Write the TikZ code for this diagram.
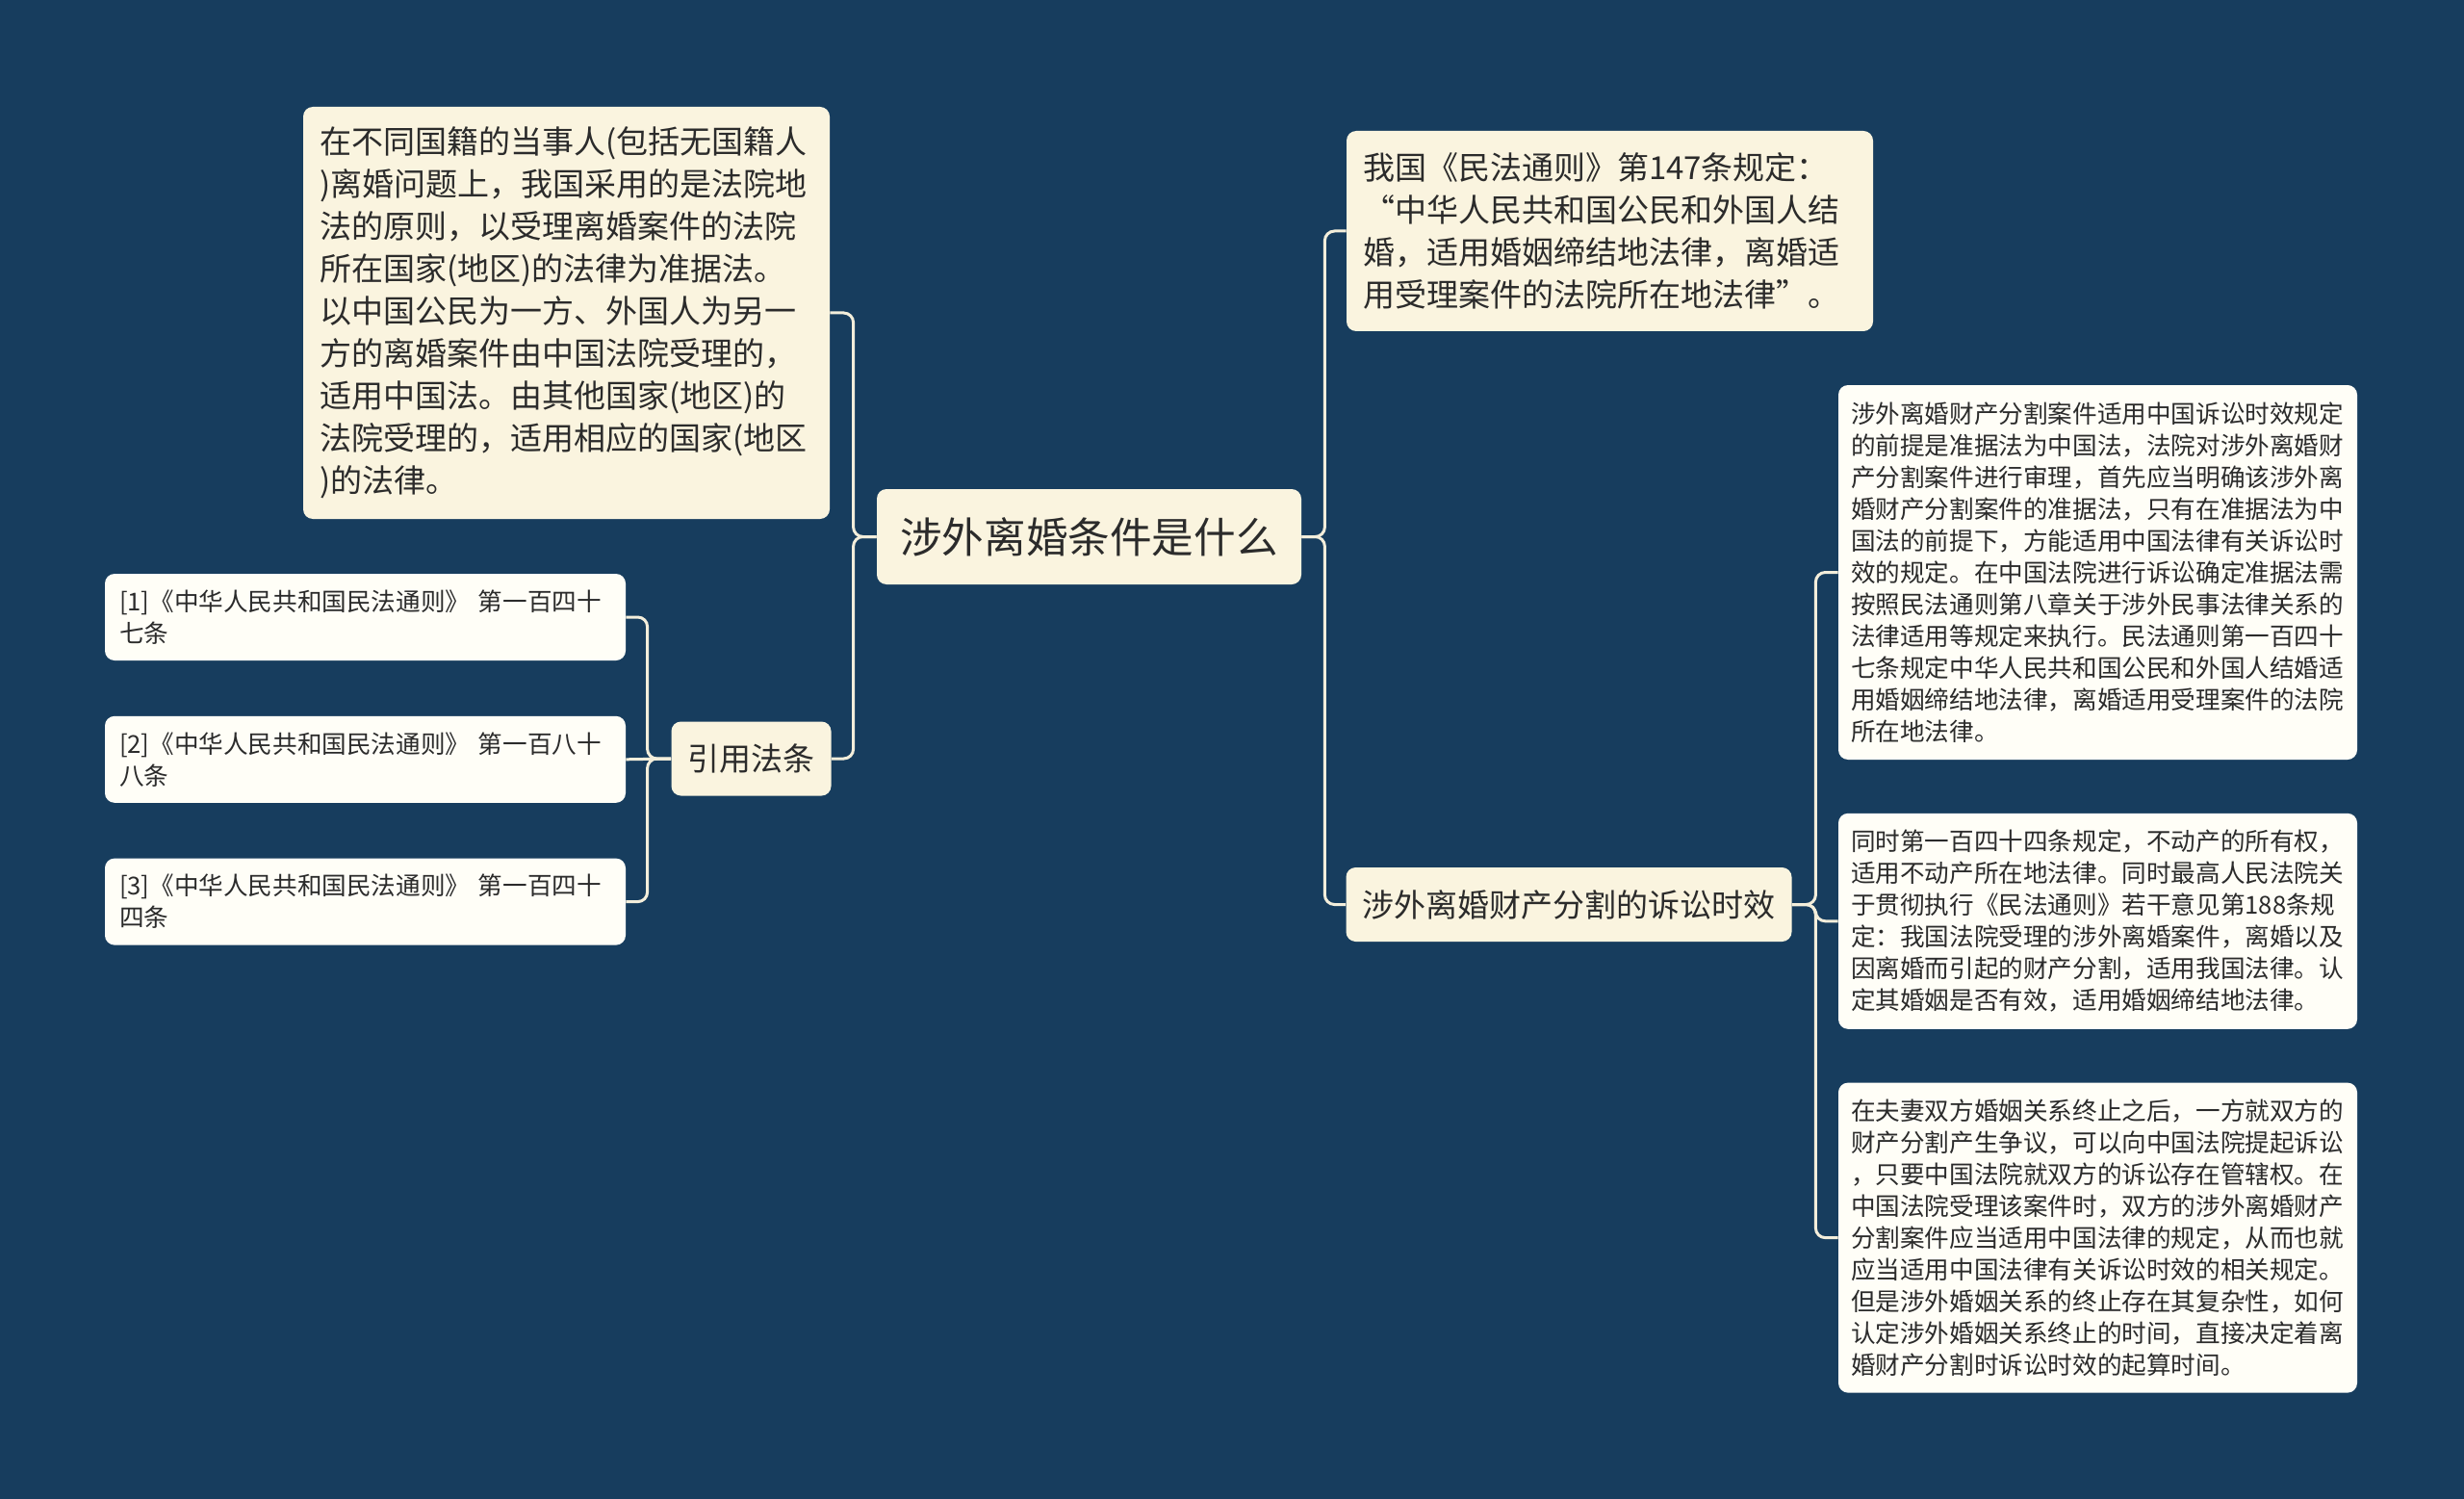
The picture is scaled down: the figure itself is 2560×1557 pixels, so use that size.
\documentclass[tikz,border=0pt]{standalone}
\usepackage{fontspec}
\newfontfamily\cjk{Noto Sans CJK SC}
\usepackage{xcolor}
\usepackage{tikz}
\usetikzlibrary{positioning}
\definecolor{navy}{HTML}{173D5E}
\definecolor{cream}{HTML}{FAF4DF}
\definecolor{paper}{HTML}{FFFEF7}
\definecolor{ink}{HTML}{2B2B2B}
\definecolor{wire}{HTML}{F3EEDB}

\begin{document}
\begin{tikzpicture}[
    x=0.5pt, y=-0.5pt,
    box/.style={fill=cream, rounded corners=5pt, align=left, text=ink, inner sep=0pt},
    big/.style={box, inner xsep=8.5pt, font=\cjk\fontsize{16.5}{22}\selectfont},
    leaf/.style={box, fill=paper, inner xsep=6.5pt, font=\cjk\fontsize{12.8}{16.5}\selectfont},
    link/.style={draw=wire, line width=1.5pt, rounded corners=5pt},
  ]
    \fill[navy] (0,0) rectangle (2560,1557);
    \node[box, minimum width=220.5pt, minimum height=49.5pt, font=\cjk\fontsize{21.8}{26}\selectfont] (root) at (1131.5,557.5) {涉外离婚条件是什么};
    \node[big, text width=256.5pt, minimum height=214pt] (rule) at (588.5,325) {在不同国籍的当事人(包括无国籍人\\)离婚问题上，我国采用的是法院地\\法的原则，以受理离婚案件的法院\\所在国家(地区)的法律为准据法。\\以中国公民为一方、外国人为另一\\方的离婚案件由中国法院受理的，\\适用中国法。由其他国家(地区)的\\法院受理的，适用相应的国家(地区\\)的法律。};
    \node[big, minimum width=81.5pt, minimum height=38.5pt] (cite) at (780.5,788) {引用法条};
    \node[big, text width=256.5pt, minimum height=104pt] (law) at (1672.5,240) {我国《民法通则》第147条规定：\\“中华人民共和国公民和外国人结\\婚，适用婚姻缔结地法律，离婚适\\用受理案件的法院所在地法律”。};
    \node[big, minimum width=231pt, minimum height=38.5pt] (limit) at (1630,939.5) {涉外离婚财产分割的诉讼时效};
    \node[leaf, inner xsep=7.5pt, text width=255.5pt, minimum height=45pt] (ref1) at (379.5,641) {[1]《中华人民共和国民法通则》 第一百四十\\七条};
    \node[leaf, inner xsep=7.5pt, text width=255.5pt, minimum height=45pt, below=28.5pt of ref1] (ref2) {[2]《中华人民共和国民法通则》 第一百八十\\八条};
    \node[leaf, inner xsep=7.5pt, text width=255.5pt, minimum height=45pt, below=28.5pt of ref2] (ref3) {[3]《中华人民共和国民法通则》 第一百四十\\四条};
    \node[leaf, text width=256.5pt, minimum height=194.5pt] (leafa) at (2179.5,594.5) {涉外离婚财产分割案件适用中国诉讼时效规定\\的前提是准据法为中国法，法院对涉外离婚财\\产分割案件进行审理，首先应当明确该涉外离\\婚财产分割案件的准据法，只有在准据法为中\\国法的前提下，方能适用中国法律有关诉讼时\\效的规定。在中国法院进行诉讼确定准据法需\\按照民法通则第八章关于涉外民事法律关系的\\法律适用等规定来执行。民法通则第一百四十\\七条规定中华人民共和国公民和外国人结婚适\\用婚姻缔结地法律，离婚适用受理案件的法院\\所在地法律。};
    \node[leaf, text width=256.5pt, minimum height=112pt, below=27.5pt of leafa] (leafb) {同时第一百四十四条规定，不动产的所有权，\\适用不动产所在地法律。同时最高人民法院关\\于贯彻执行《民法通则》若干意见第188条规\\定：我国法院受理的涉外离婚案件，离婚以及\\因离婚而引起的财产分割，适用我国法律。认\\定其婚姻是否有效，适用婚姻缔结地法律。};
    \node[leaf, text width=256.5pt, minimum height=161pt, below=27.5pt of leafb] (leafc) {在夫妻双方婚姻关系终止之后，一方就双方的\\财产分割产生争议，可以向中国法院提起诉讼\\，只要中国法院就双方的诉讼存在管辖权。在\\中国法院受理该案件时，双方的涉外离婚财产\\分割案件应当适用中国法律的规定，从而也就\\应当适用中国法律有关诉讼时效的相关规定。\\但是涉外婚姻关系的终止存在其复杂性，如何\\认定涉外婚姻关系终止的时间，直接决定着离\\婚财产分割时诉讼时效的起算时间。};
    \draw[link] (root.west) -- ++(-24,0) |- (rule.east);
    \draw[link] (root.west) -- ++(-24,0) |- (cite.east);
    \draw[link] (root.east) -- ++(24,0) |- (law.west);
    \draw[link] (root.east) -- ++(24,0) |- (limit.west);
    \draw[link] (cite.west) -- ++(-24.5,0) |- (ref1.east);
    \draw[link] (cite.west) -- (ref2.east);
    \draw[link] (cite.west) -- ++(-24.5,0) |- (ref3.east);
    \draw[link] (limit.east) -- ++(24.5,0) |- (leafa.west);
    \draw[link] (limit.east) -- ++(24.5,0) |- (leafb.west);
    \draw[link] (limit.east) -- ++(24.5,0) |- (leafc.west);
  \end{tikzpicture}
\end{document}
